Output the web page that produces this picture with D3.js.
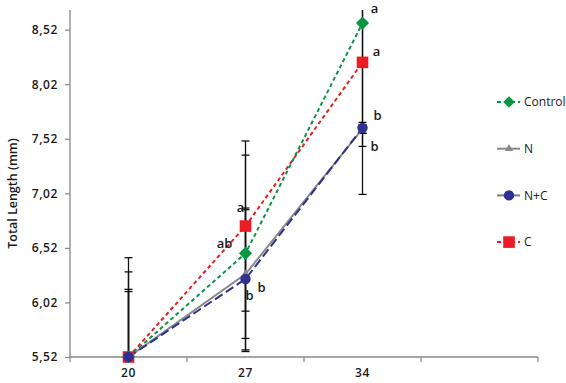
<!DOCTYPE html>
<html>
<head>
<meta charset="utf-8">
<script src="https://cdn.jsdelivr.net/npm/d3@7"></script>
<style>
  body { margin: 0; background: #fff; }
  text { font-family: "Open Sans", sans-serif; }
</style>
</head>
<body>
<script>
// data
var days = ["20", "27", "34", ""];
var yTicks = [5.52, 6.02, 6.52, 7.02, 7.52, 8.02, 8.52];
var yTickLabels = ["5,52", "6,02", "6,52", "7,02", "7,52", "8,02", "8,52"];
var seriesNames = ["Control", "N", "N+C", "C"];

var control = [5.52, 6.47, 8.58];
var n = [5.52, 6.28, 7.61];
var nc = [5.52, 6.235, 7.62];
var c = [5.52, 6.72, 8.22];

var controlErr = [0.91, 0.90, 1.13];
var nErr = [0.62, 0.59, 0.04];
var ncErr = [0.60, 0.65, 0.05];
var cErr = [0.78, 0.78, 1.21];

var controlLetters = ["", "ab", "a"];
var nLetters = ["", "b", "b"];
var ncLetters = ["", "b", "b"];
var cLetters = ["", "a", "a"];

var margin = {top: 10, right: 28, bottom: 26, left: 70},
	width = 566 - margin.left - margin.right,
	height = 383 - margin.top - margin.bottom;

var svg = d3.select("body").append("svg")
	.attr("width", 566)
	.attr("height", 383);

var main = svg.append("g")
	.attr("transform", "translate(" + margin.left + "," + margin.top + ")");

var x = d3.scaleBand()
	.domain(days)
	.range([0, width]);

var y = d3.scaleLinear()
	.domain([5.52, 8.70])
	.range([height, 0]);

// y axis
var yAxis = d3.axisLeft(y)
	.tickValues(yTicks)
	.tickFormat(function(d, i) { return yTickLabels[i]; })
	.tickSize(5)
	.tickPadding(7);

var gy = main.append("g").call(yAxis);
gy.select(".domain").attr("stroke", "#878787").attr("stroke-width", 1.3).attr("d", "M0,0V" + height);
gy.selectAll(".tick line").attr("stroke", "#878787").attr("stroke-width", 1.2);
gy.selectAll(".tick text")
	.attr("fill", "#1a1a1a")
	.style("font-size", "12px")
	.style("font-weight", "600")
	.style("letter-spacing", "0.6px");

// x axis: labels at band centres, ticks at band edges
var xAxis = d3.axisBottom(x).tickSize(0).tickPadding(11);
var gx = main.append("g")
	.attr("transform", "translate(0," + height + ")")
	.call(xAxis);
gx.select(".domain").attr("stroke", "#878787").attr("stroke-width", 1.3).attr("d", "M0,0H" + width);
gx.selectAll(".tick text")
	.attr("fill", "#1a1a1a")
	.style("font-size", "12px")
	.style("font-weight", "600")
	.style("letter-spacing", "0.6px");

var edges = days.map(function(d) { return x(d); }).concat([width]);
gx.selectAll(".edge")
	.data(edges)
	.enter().append("line")
	.attr("x1", function(d) { return d; })
	.attr("x2", function(d) { return d; })
	.attr("y1", 0)
	.attr("y2", 5)
	.attr("stroke", "#878787")
	.attr("stroke-width", 1.2);

// y title
svg.append("text")
	.attr("transform", "translate(17," + (margin.top + height / 2 + 10) + ") rotate(-90)")
	.attr("text-anchor", "middle")
	.attr("fill", "#1a1a1a")
	.style("font-size", "12.5px")
	.style("font-weight", "600")
	.text("Total Length (mm)");

main.append("clipPath").attr("id", "plotclip")
	.append("rect").attr("width", width).attr("height", height);

var series = [
	{name: seriesNames[0], values: control, err: controlErr, letters: controlLetters, color: "#0b9444", dash: "4,3", marker: "diamond"},
	{name: seriesNames[1], values: n, err: nErr, letters: nLetters, color: "#8a8a8a", dash: null, marker: "triangle"},
	{name: seriesNames[2], values: nc, err: ncErr, letters: ncLetters, color: "#2e3192", dash: "9,4", marker: "circle"},
	{name: seriesNames[3], values: c, err: cErr, letters: cLetters, color: "#ed1c24", dash: "4,3", marker: "square"}
];

var cx = function(i) { return x(days[i]) + x.bandwidth() / 2; };

var plot = main.append("g").attr("clip-path", "url(#plotclip)");

// error bars
series.forEach(function(s) {
	var eb = plot.selectAll(null)
		.data(s.values)
		.enter().append("g");
	eb.append("line")
		.attr("x1", function(d, i) { return cx(i); })
		.attr("x2", function(d, i) { return cx(i); })
		.attr("y1", function(d, i) { return y(d + s.err[i]); })
		.attr("y2", function(d, i) { return y(d - s.err[i]); })
		.attr("stroke", "#111").attr("stroke-width", 1.3);
	[1, -1].forEach(function(sign) {
		eb.append("line")
			.attr("x1", function(d, i) { return cx(i) - 4; })
			.attr("x2", function(d, i) { return cx(i) + 4; })
			.attr("y1", function(d, i) { return y(d + sign * s.err[i]); })
			.attr("y2", function(d, i) { return y(d + sign * s.err[i]); })
			.attr("stroke", "#111").attr("stroke-width", 1.3);
	});
});

var line = d3.line()
	.x(function(d, i) { return cx(i); })
	.y(function(d) { return y(d); });

function drawMarker(g, type, color, diamondSize) {
	if (type == "diamond") {
		g.append("path").attr("d", d3.symbol().type(d3.symbolDiamond2).size(diamondSize)).attr("fill", color);
	} else if (type == "triangle") {
		g.append("path").attr("d", d3.symbol().type(d3.symbolTriangle).size(30)).attr("fill", color);
	} else if (type == "circle") {
		g.append("circle").attr("r", 5.2).attr("fill", color);
	} else {
		g.append("rect").attr("x", -5.8).attr("y", -5.8).attr("width", 11.6).attr("height", 11.6).attr("fill", color);
	}
}

// draw order: C, Control, N, N+C
var order = [3, 0, 1, 2];
order.forEach(function(k) {
	var s = series[k];
	plot.append("path")
		.datum(s.values)
		.attr("d", line)
		.attr("fill", "none")
		.attr("stroke", s.color)
		.attr("stroke-width", 2)
		.attr("stroke-dasharray", s.dash);
});
order.forEach(function(k) {
	var s = series[k];
	s.values.forEach(function(v, i) {
		var g = main.append("g").attr("transform", "translate(" + cx(i) + "," + y(v) + ")");
		drawMarker(g, s.marker, s.color, 110);
	});
});

// significance letters
var letterOffsets = {
	"Control": [[0, 0], [-21, -10], [12, -15]],
	"N": [[0, 0], [16, 13], [12, 18]],
	"N+C": [[0, 0], [4, 16], [15, -12]],
	"C": [[0, 0], [-5, -19], [14, -11]]
};
series.forEach(function(s) {
	s.letters.forEach(function(l, i) {
		if (!l) return;
		var o = letterOffsets[s.name][i];
		main.append("text")
			.attr("x", cx(i) + o[0])
			.attr("y", y(s.values[i]) + o[1])
			.attr("text-anchor", "middle")
			.attr("dy", "0.35em")
			.attr("fill", "#1a1a1a")
			.style("font-size", "13px")
			.style("font-weight", "600")
			.text(l);
	});
});

// legend
var legend = svg.selectAll(".legend")
	.data(series)
	.enter().append("g")
	.attr("transform", function(d, i) { return "translate(497," + (102 + i * 46.7) + ")"; });

legend.append("line")
	.attr("x1", 0).attr("x2", 23)
	.attr("stroke", function(d) { return d.name == "N+C" ? "#7a7a8a" : d.color; })
	.attr("stroke-width", 2)
	.attr("stroke-dasharray", function(d) { return d.name == "Control" || d.name == "C" ? "4,3" : null; });

legend.each(function(d) {
	var g = d3.select(this).append("g").attr("transform", "translate(12,0)");
	drawMarker(g, d.marker, d.color, 85);
});

legend.append("text")
	.attr("x", 27)
	.attr("dy", "0.35em")
	.attr("fill", "#1a1a2a")
	.style("font-size", "12px")
	.text(function(d) { return d.name; });
</script>
</body>
</html>
